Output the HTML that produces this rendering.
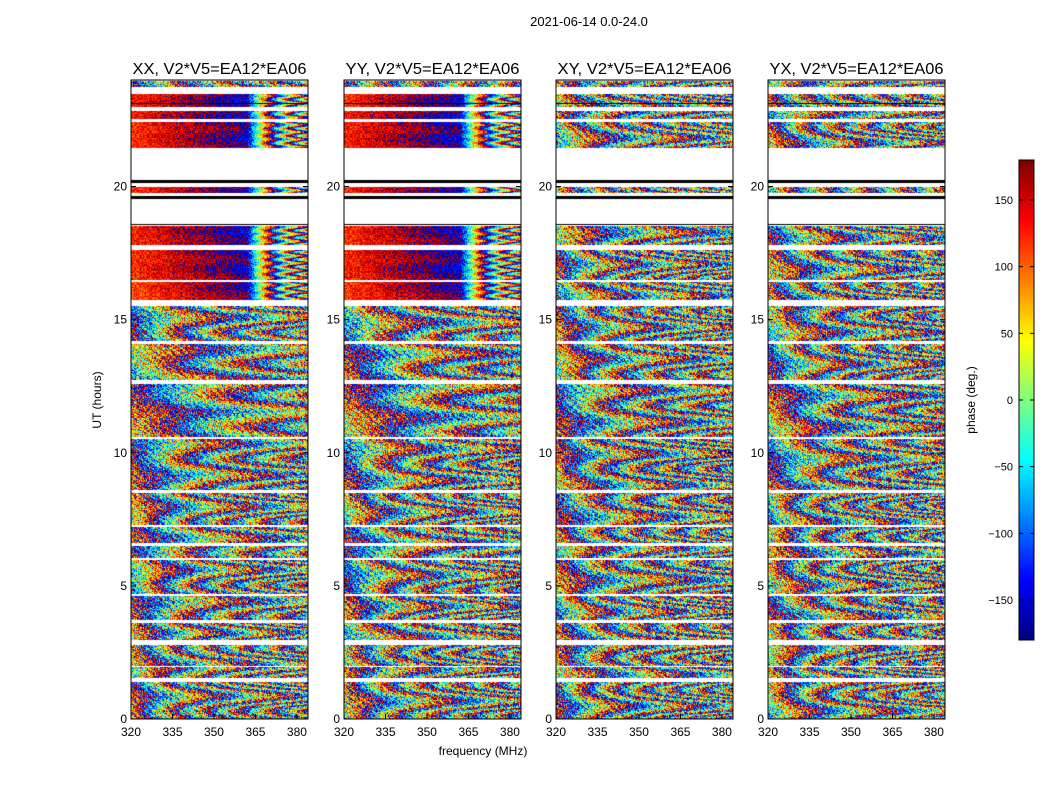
<!DOCTYPE html>
<html><head><meta charset="utf-8">
<style>
body{margin:0;background:#fff;}
#root{position:relative;width:1050px;height:800px;background:#fff;font-family:"Liberation Sans",sans-serif;overflow:hidden;}
canvas{position:absolute;}
svg{position:absolute;left:0;top:0;}
</style></head>
<body>
<div id="root">
<canvas id="c0" width="177" height="639" style="left:131px;top:80px"></canvas>
<canvas id="c1" width="177" height="639" style="left:344px;top:80px"></canvas>
<canvas id="c2" width="177" height="639" style="left:556px;top:80px"></canvas>
<canvas id="c3" width="177" height="639" style="left:768px;top:80px"></canvas>
<canvas id="cb" width="15" height="480" style="left:1019px;top:160px"></canvas>
<svg id="s" width="1050" height="800"></svg>
</div>
<script>
// ---- data ----
const panelTitles = ["XX, V2*V5=EA12*EA06","YY, V2*V5=EA12*EA06","XY, V2*V5=EA12*EA06","YX, V2*V5=EA12*EA06"];
const xTicks = [320,335,350,365,380];
const yTicks = [0,5,10,15,20];
const cbTicks = [-150,-100,-50,0,50,100,150];
const scanStart = [0.0,1.54,2.0,2.96,3.7,4.7,6.05,6.6,7.3,8.6,10.6,12.72,14.2,15.72,16.5,17.79,19.74,21.43,22.55,23.0,23.75];
const scanEnd   = [1.39,1.95,2.78,3.62,4.62,5.97,6.5,7.22,8.5,10.5,12.57,14.1,15.5,16.4,17.6,18.5,20.0,22.44,22.85,23.49,23.95];
const phaseOffsetXX = [40,-60,30,20,90,-120,150,100,-30,60,10,-90,130,110,120,125,120,120,130,125,160];
const phaseOffsetYY = [-20,70,-40,-100,30,140,160,120,-60,100,-20,60,-150,115,125,120,125,125,130,120,170];
const phaseOffsetXY = [100,-30,50,60,-140,20,-80,40,110,-10,70,-60,30,-120,90,-40,10,-100,80,-20,50];
const phaseOffsetYX = [-80,40,-60,-20,120,-60,30,-50,-130,80,-40,110,-90,60,-10,140,-70,20,-110,90,-30];
const phaseSlopeXX = [22,18,20,25,15,20,12,14,19,14,8,10,16,1.9,1.9,1.9,1.9,1.9,1.9,1.9,15];
const phaseSlopeYY = [20,24,22,16,22,18,11,15,21,17,9,12,14,1.9,1.9,1.9,1.9,1.9,1.9,1.9,17];
const phaseSlopeXY = [24,20,19,18,25,16,22,20,17,20,15,18,21,19,23,17,22,20,18,24,19];
const phaseSlopeYX = [21,25,23,19,17,23,18,21,24,16,14,20,17,22,18,21,19,23,17,20,22];
const blackLineHours = [20.22,19.62,23.1,18.55];
const offsets=[phaseOffsetXX,phaseOffsetYY,phaseOffsetXY,phaseOffsetYX];
const slopes=[phaseSlopeXX,phaseSlopeYY,phaseSlopeXY,phaseSlopeYX];

// ---- axes ----
const fMin=320,fMax=384,tMin=0,tMax=24;
const W=177,H=639;
const xS=f=>(f-fMin)/(fMax-fMin)*W;
const yS=t=>H-(t-tMin)/(tMax-tMin)*H;
const cbY=v=>480-(v+180)/360*480;
const panelX=[131,344,556,768];

function jet(v){
  const r=Math.min(Math.max(1.5-Math.abs(4*v-3),0),1);
  const g=Math.min(Math.max(1.5-Math.abs(4*v-2),0),1);
  const b=Math.min(Math.max(1.5-Math.abs(4*v-1),0),1);
  return [r*255,g*255,b*255];
}
function wrap(p){p=((p+180)%360+360)%360;return p-180;}
function tex(d,t,p){return Math.sin(d*d*7.31+t*t*911.7+p*3.1)*Math.cos(d*13.7+t*t*377.3);}
function phase(p,s,f,t){
  const d=f-fMin, dt=t-scanStart[s];
  const sl=slopes[p][s];
  if(sl<3){
    if(f<362) return wrap(offsets[p][s]+sl*d*(1+0.2*Math.sin(t*9))+45*tex(d,t,p));
    return wrap(offsets[p][s]+sl*d+38*(f-362)*(1+0.2*Math.sin(t*23))+70*tex(d,t,p));
  }
  let ph=offsets[p][s]+sl*d*(1+0.4*Math.sin(t*5.3+p))+dt*90;
  ph+=60*Math.sin(d*2.7+t*41+p*1.7)*Math.sin(t*17.3+d*0.61);
  ph+=120*tex(d,t,p);
  return wrap(ph);
}
for(let p=0;p<4;p++){
  const cv=document.getElementById('c'+p),ctx=cv.getContext('2d');
  const img=ctx.createImageData(W,H);
  for(let i=0;i<W*H*4;i++)img.data[i]=255;
  for(let s=0;s<scanStart.length;s++){
    const y0=Math.round(yS(scanEnd[s])),y1=Math.round(yS(scanStart[s]));
    for(let y=y0;y<y1;y++){
      const t=tMax-(y/H)*(tMax-tMin);
      for(let x=0;x<W;x++){
        const f=fMin+(x/W)*(fMax-fMin);
        const c=jet((phase(p,s,f,t)+180)/360);
        const i=(y*W+x)*4;img.data[i]=c[0];img.data[i+1]=c[1];img.data[i+2]=c[2];
      }
    }
  }
  ctx.putImageData(img,0,0);
  ctx.fillStyle='#000';
  blackLineHours.forEach((h,k)=>{ctx.fillRect(0,Math.round(yS(h))-1,W,k<2?3:1);});
}
const cb=document.getElementById('cb').getContext('2d');
for(let y=0;y<480;y++){const c=jet(1-y/480);cb.fillStyle=`rgb(${c[0]|0},${c[1]|0},${c[2]|0})`;cb.fillRect(0,y,15,1);}

const svg=document.getElementById('s');
const NS="http://www.w3.org/2000/svg";
function mk(tag,attrs,txt){const e=document.createElementNS(NS,tag);for(const k in attrs)e.setAttribute(k,attrs[k]);if(txt!==undefined)e.textContent=txt;svg.appendChild(e);return e;}
let e;
e=mk('text',{x:589,y:26,'text-anchor':'middle','font-size':13},"2021-06-14 0.0-24.0");


for(let p=0;p<4;p++){
  const X=panelX[p];
  e=mk('rect',{x:X,y:80,width:W,height:H,fill:'none',stroke:'#000','stroke-width':1});
  
  
  e=mk('text',{x:X+W/2,y:74,'text-anchor':'middle','font-size':16,textLength:174,lengthAdjust:'spacingAndGlyphs'},panelTitles[p]);
  
  
  xTicks.forEach(v=>{
    const x=X+xS(v);
    mk('line',{x1:x,y1:719,x2:x,y2:714,stroke:'#000'});
    e=mk('text',{x:x,y:736,'text-anchor':'middle','font-size':12},v);
    
    
  });
  yTicks.forEach(v=>{
    const y=80+yS(v);
    mk('line',{x1:X,y1:y,x2:X+5,y2:y,stroke:'#000'});
    mk('line',{x1:X+W,y1:y,x2:X+W-5,y2:y,stroke:'#000'});
    e=mk('text',{x:X-4,y:y+4,'text-anchor':'end','font-size':12},v);
    
    
  });
}
e=mk('text',{x:483,y:755,'text-anchor':'middle','font-size':12},"frequency (MHz)");


e=mk('text',{x:0,y:0,'text-anchor':'middle','font-size':12,transform:'translate(101,400) rotate(-90)'},"UT (hours)");


e=mk('rect',{x:1019,y:160,width:15,height:480,fill:'none',stroke:'#000'});


cbTicks.forEach(v=>{
  const y=160+cbY(v);
  mk('line',{x1:1019,y1:y,x2:1023,y2:y,stroke:'#000'});
  mk('line',{x1:1034,y1:y,x2:1030,y2:y,stroke:'#000'});
  e=mk('text',{x:1013,y:y+4,'text-anchor':'end','font-size':11},String(v).replace('-','\u2212'));
  
  
});
e=mk('text',{x:0,y:0,'text-anchor':'middle','font-size':12,transform:'translate(975,400) rotate(-90)'},"phase (deg.)");


</script>
</body></html>
